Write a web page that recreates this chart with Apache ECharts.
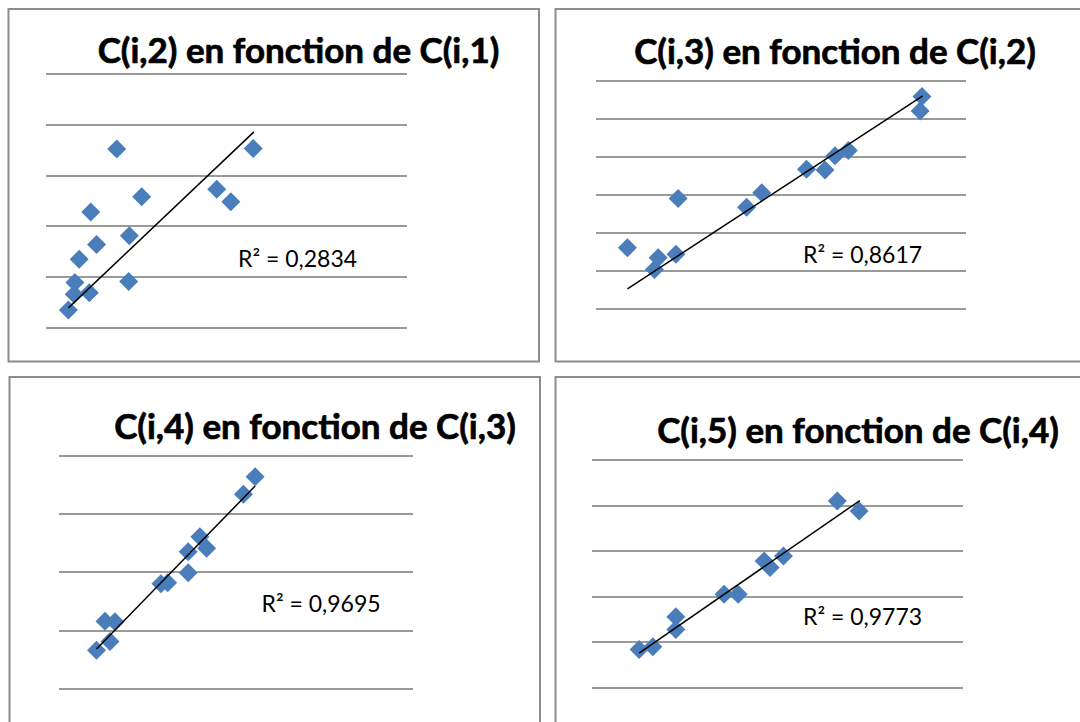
<!DOCTYPE html>
<html>
<head>
<meta charset="utf-8">
<script src="https://cdn.jsdelivr.net/npm/echarts@6/dist/echarts.min.js"></script>
<style>
html,body{margin:0;padding:0;background:#fff;}
#chart{width:1080px;height:722px;}
</style>
</head>
<body>
<div id="chart"></div>
<script>
// ---- Data (axes carry no labels) ----
const titles = [
  "C(i,2) en fonction de C(i,1)",
  "C(i,3) en fonction de C(i,2)",
  "C(i,4) en fonction de C(i,3)",
  "C(i,5) en fonction de C(i,4)"
];
const r2Labels = ["R² = 0,2834", "R² = 0,8617", "R² = 0,9695", "R² = 0,9773"];

const x1 = [1.96, 5.74, 2.65, 4.73, 5.12, 1.24, 2.31, 1.40, 0.92, 2.29, 0.80, 1.20, 0.78, 0.62];
const y1 = [3.52, 3.53, 2.58, 2.73, 2.48, 2.28, 1.81, 1.64, 1.35, 0.91, 0.89, 0.69, 0.66, 0.35];
const trendX1 = [0.62, 5.76];
const trendY1 = [0.39, 3.86];

const x2 = [8.81, 8.76, 6.82, 6.46, 6.19, 5.69, 4.48, 4.07, 2.22, 0.85, 2.16, 1.68, 1.58];
const y2 = [5.59, 5.21, 4.17, 4.03, 3.66, 3.68, 3.06, 2.68, 2.91, 1.61, 1.44, 1.35, 1.04];
const trendX2 = [0.85, 8.83];
const trendY2 = [0.53, 5.61];

const x3 = [5.54, 5.21, 3.98, 4.17, 3.65, 3.65, 3.07, 2.88, 1.30, 1.58, 1.44, 1.06];
const y3 = [3.64, 3.34, 2.61, 2.41, 2.35, 1.99, 1.82, 1.80, 1.16, 1.15, 0.81, 0.66];
const trendX3 = [1.06, 5.54];
const trendY3 = [0.68, 3.48];

const x4 = [6.61, 7.20, 5.16, 4.64, 4.80, 3.94, 3.56, 2.26, 2.26, 1.64, 1.27];
const y4 = [4.10, 3.88, 2.89, 2.78, 2.64, 2.05, 2.05, 1.56, 1.28, 0.90, 0.84];
const trendX4 = [1.27, 7.22];
const trendY4 = [0.76, 4.11];

const yMax = [5, 6, 4, 5];   // number of horizontal gridline intervals per panel
const xMax = 10;

// ---- Layout ----
const grids = [
  {left: 46,  top: 74,    width: 361, height: 253.7},
  {left: 596, top: 81,    width: 370, height: 228},
  {left: 59,  top: 455.7, width: 354, height: 233},
  {left: 592, top: 460,   width: 371, height: 227.7}
];
const frames = [
  {x: 8.5,   y: 9,   width: 530.5, height: 352.5},
  {x: 555.5, y: 9,   width: 600,   height: 352.5},
  {x: 9.5,   y: 377, width: 530.5, height: 400},
  {x: 555.5, y: 377, width: 600,   height: 400}
];
const titlePos = [[298.5, 49], [835, 50], [315, 425], [858, 429]];
const r2Pos = [[238, 258], [803, 254], [261.5, 603], [803, 616]];

const xs = [x1, x2, x3, x4], ys = [y1, y2, y3, y4];
const txs = [trendX1, trendX2, trendX3, trendX4], tys = [trendY1, trendY2, trendY3, trendY4];

const MARKER = '#4a7ebb';
const GRIDLINE = '#9a9a9a';
const FRAME = '#8c8c8c';

const option = {
  backgroundColor: '#ffffff',
  animation: false,
  grid: grids.map(g => Object.assign({containLabel: false}, g)),
  xAxis: grids.map((g, i) => ({
    gridIndex: i, type: 'value', min: 0, max: xMax,
    axisLine: {show: false}, axisTick: {show: false}, axisLabel: {show: false},
    splitLine: {show: false}
  })),
  yAxis: grids.map((g, i) => ({
    gridIndex: i, type: 'value', min: 0, max: yMax[i], interval: 1,
    axisLine: {show: false}, axisTick: {show: false}, axisLabel: {show: false},
    splitLine: {show: true, lineStyle: {color: GRIDLINE, width: 2}}
  })),
  series: [],
  graphic: []
};

for (let i = 0; i < 4; i++) {
  option.series.push({
    type: 'scatter', xAxisIndex: i, yAxisIndex: i,
    symbol: 'diamond', symbolSize: 19,
    itemStyle: {color: MARKER, opacity: 1},
    data: xs[i].map((x, k) => [x, ys[i][k]]),
    z: 2
  });
  option.series.push({
    type: 'line', xAxisIndex: i, yAxisIndex: i,
    symbol: 'none', silent: true,
    lineStyle: {color: '#000000', width: 1.5},
    data: txs[i].map((x, k) => [x, tys[i][k]]),
    z: 3
  });
  option.graphic.push({
    type: 'rect', silent: true, z: 0,
    shape: frames[i],
    style: {fill: 'none', stroke: FRAME, lineWidth: 2}
  });
  option.graphic.push({
    type: 'text', z: 10,
    x: titlePos[i][0], y: titlePos[i][1],
    style: {
      text: titles[i], fill: '#000000',
      stroke: '#000000', lineWidth: 0.7,
      font: 'bold 35px Lato, "Noto Sans", sans-serif',
      align: 'center', verticalAlign: 'middle'
    }
  });
  option.graphic.push({
    type: 'text', z: 10,
    x: r2Pos[i][0], y: r2Pos[i][1],
    style: {
      text: r2Labels[i], fill: '#000000',
      font: '23px Lato, "Noto Sans", sans-serif',
      align: 'left', verticalAlign: 'middle'
    }
  });
}

const chart = echarts.init(document.getElementById('chart'), null, {renderer: 'svg'});
chart.setOption(option);
</script>
</body>
</html>
